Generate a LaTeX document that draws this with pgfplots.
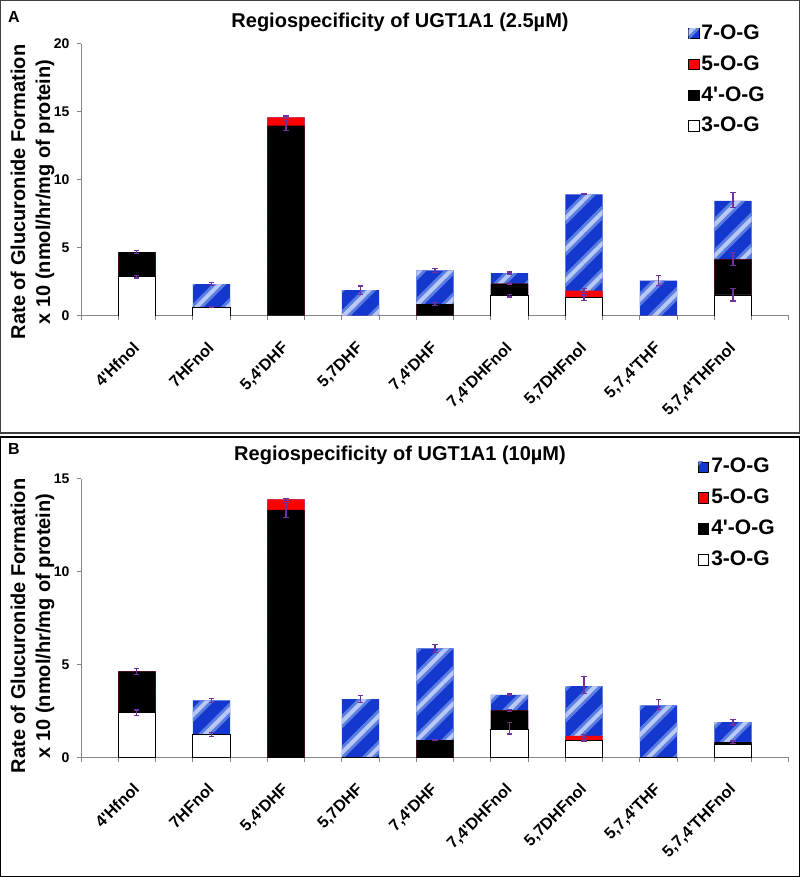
\documentclass[border=0pt]{standalone}
\usepackage{fontspec}
\setmainfont{Liberation Sans}
\usepackage{pgfplots}
\pgfplotsset{compat=1.18}
\usetikzlibrary{patterns.meta}

\definecolor{axgray}{RGB}{134,134,134}
\definecolor{barblue}{RGB}{20,55,205}
\definecolor{midblue}{RGB}{90,125,225}
\definecolor{paleblue}{RGB}{185,200,245}
\definecolor{errpurple}{RGB}{112,48,160}
\definecolor{barred}{RGB}{255,0,0}

\newcommand{\q}{\textquotesingle}

\pgfplotsset{
  sqlegend/.style={legend image code/.code={\draw[##1] (0pt,-2.6pt) rectangle (5.2pt,2.6pt);}},
  og7/.style={ybar, bar width=0.5, bar shift=0pt, fill=barblue, draw=none, sqlegend,
    postaction={pattern={Lines[angle=45,distance=11pt,line width=5pt]}, pattern color=midblue},
    postaction={pattern={Lines[angle=45,distance=11pt,line width=2pt]}, pattern color=paleblue}},
  og5/.style={ybar, bar width=0.5, bar shift=0pt, fill=barred, draw=none, sqlegend},
  og4/.style={ybar, bar width=0.5, bar shift=0pt, fill=black, draw=none, sqlegend},
  og3/.style={ybar, bar width=0.5, bar shift=0pt, fill=white, draw=black, line width=0.4pt, sqlegend},
  errs/.style={draw=none, mark=none, forget plot,
    error bars/.cd, y dir=both, y explicit,
    error bar style={draw=errpurple, line width=0.6pt},
    error mark options={draw=errpurple, rotate=90, mark size=1.3pt, line width=0.6pt}},
  panel/.style={
    scale only axis, width=354pt, anchor=south west,
    xmin=-0.75, xmax=8.75, ymin=0,
    axis lines=left, axis line style={-, axgray, line width=0.5pt},
    tick align=outside, tick style={axgray, line width=0.5pt},
    major tick length=2.2pt, minor tick length=2.2pt,
    xtick={0,...,8}, major x tick style={draw=none},
    minor xtick={-0.75,-0.25,...,8.75},
    xticklabels={4\q Hfnol,7HFnol,{5,4\q DHF},{5,7DHF},{7,4\q DHF},{7,4\q DHFnol},{5,7DHFnol},{5,7,4\q THF},{5,7,4\q THFnol}},
    xticklabel style={xshift=-2.5pt, yshift=-10pt, rotate=45, anchor=north east, inner sep=0pt,
      font=\fontsize{8.1}{9}\selectfont\bfseries},
    yticklabel style={font=\fontsize{7}{8}\selectfont\bfseries},
    /pgf/number format/assume math mode=true,
    ylabel={Rate of Glucuronide Formation\\x 10 (nmol/hr/mg of protein)},
    ylabel style={align=center, font=\fontsize{10}{12.5}\selectfont\bfseries, anchor=center},
    every axis title/.style={anchor=center, font=\fontsize{10}{12}\selectfont\bfseries},
    legend style={draw=none, fill=none, anchor=north west, inner sep=0pt,
      font=\fontsize{10.5}{12}\selectfont\bfseries, row sep=4.6pt,
      nodes={inner sep=1pt}},
    legend cell align=left,
  },
}

\begin{document}
\begin{tikzpicture}
\useasboundingbox (0,0) rectangle (400pt,438.5pt);
\draw[black!75, line width=0.6pt] (0.3pt,222pt) rectangle (399.7pt,438.2pt);
\draw[black, line width=0.6pt] (0.3pt,0.3pt) rectangle (399.7pt,220pt);
\node[font=\fontsize{8}{9}\selectfont\bfseries] at (7pt,430pt) {A};
\node[font=\fontsize{8}{9}\selectfont\bfseries] at (7pt,214pt) {B};

% panel A: 2.5 uM (bars drawn as cumulative tops, tallest first)
\begin{axis}[panel, at={(40.5pt,280.5pt)}, height=136pt,
  ymax=20, ytick={0,5,10,15,20},
  title={Regiospecificity of UGT1A1 (2.5\textmu M)},
  title style={at={(axis description cs:0.4506,1.081)}},
  ylabel style={at={(axis description cs:-0.0685,0.456)}},
  legend style={at={(axis description cs:0.857,1.08)}}]
\addplot[og7] coordinates {(0,4.7) (1,2.35) (2,14.6) (3,1.9) (4,3.36) (5,3.16) (6,8.95) (7,2.6) (8,8.46)};
\addplot[og5] coordinates {(0,4.7) (1,0.65) (2,14.6) (3,0) (4,0.88) (5,2.38) (6,1.86) (7,0) (8,4.17)};
\addplot[og4] coordinates {(0,4.7) (1,0.65) (2,14.0) (3,0) (4,0.88) (5,2.38) (6,1.35) (7,0) (8,4.17)};
\addplot[og3] coordinates {(0,2.9) (1,0.65) (2,0) (3,0) (4,0) (5,1.5) (6,1.35) (7,0) (8,1.55)};
\addplot[errs] coordinates {
  (0,2.9) +- (0,0.1) (0,4.7) +- (0,0.1)
  (1,0.65) +- (0,0.05) (1,2.35) +- (0,0.1)
  (2,14.0) +- (0,0.35) (2,14.6) +- (0,0.1)
  (3,1.9) +- (0,0.3)
  (4,0.88) +- (0,0.1) (4,3.36) +- (0,0.15)
  (5,1.5) +- (0,0.1) (5,2.38) +- (0,0.05) (5,3.16) +- (0,0.07)
  (6,1.35) +- (0,0.2) (6,1.86) +- (0,0.15) (6,8.95) +- (0,0.03)
  (7,2.6) +- (0,0.35)
  (8,1.55) +- (0,0.45) (8,4.17) +- (0,0.47) (8,8.55) +- (0,0.55)};
\legend{7-O-G,5-O-G,4\q-O-G,3-O-G}
\end{axis}

% panel B: 10 uM
\begin{axis}[panel, at={(40.5pt,59.85pt)}, height=139.15pt,
  ymax=15, ytick={0,5,10,15},
  title={Regiospecificity of UGT1A1 (10\textmu M)},
  title style={at={(axis description cs:0.4506,1.086)}},
  ylabel style={at={(axis description cs:-0.0685,0.472)}},
  legend style={at={(axis description cs:0.871,1.083)}}]
\addplot[og7] coordinates {(0,4.63) (1,3.07) (2,13.9) (3,3.14) (4,5.87) (5,3.36) (6,3.84) (7,2.8) (8,1.89)};
\addplot[og5] coordinates {(0,4.63) (1,1.24) (2,13.9) (3,0) (4,0.93) (5,2.53) (6,1.15) (7,0) (8,0.82)};
\addplot[og4] coordinates {(0,4.63) (1,1.24) (2,13.33) (3,0) (4,0.93) (5,2.53) (6,0.93) (7,0) (8,0.82)};
\addplot[og3] coordinates {(0,2.4) (1,1.24) (2,0) (3,0) (4,0) (5,1.51) (6,0.93) (7,0) (8,0.7)};
\addplot[errs] coordinates {
  (0,2.4) +- (0,0.15) (0,4.63) +- (0,0.15)
  (1,1.24) +- (0,0.1) (1,3.07) +- (0,0.12)
  (2,13.33) +- (0,0.4) (2,13.9) +- (0,0.06)
  (3,3.14) +- (0,0.18)
  (4,0.93) +- (0,0.04) (4,5.87) +- (0,0.2)
  (5,1.56) +- (0,0.3) (5,2.53) +- (0,0.05) (5,3.36) +- (0,0.05)
  (6,0.98) +- (0,0.1) (6,1.15) +- (0,0.08) (6,3.9) +- (0,0.45)
  (7,2.86) +- (0,0.27)
  (8,0.82) +- (0,0.06) (8,1.89) +- (0,0.15)};
\legend{7-O-G,5-O-G,4\q-O-G,3-O-G}
\end{axis}
\end{tikzpicture}
\end{document}
